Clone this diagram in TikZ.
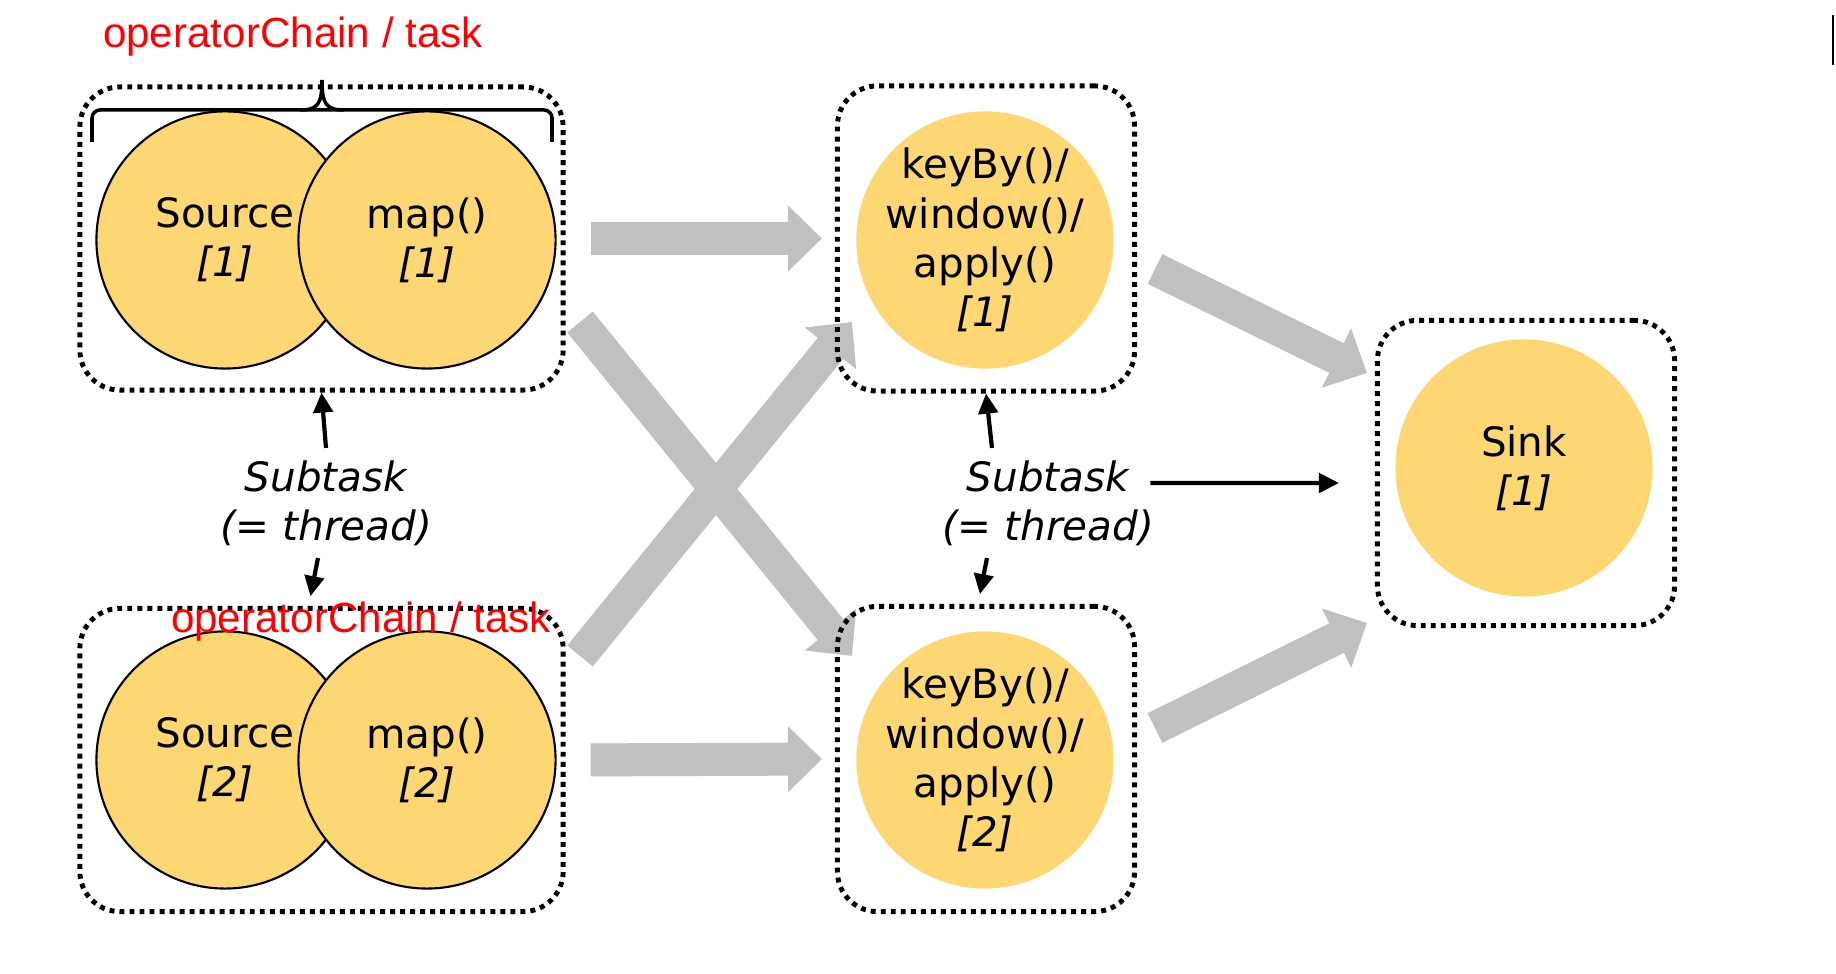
\documentclass[tikz,border=0pt]{standalone}
\usepackage{fontspec}
\setmainfont{DejaVu Sans}
\newfontfamily\redfont{Liberation Sans}
\usetikzlibrary{arrows.meta,backgrounds}

\definecolor{opyellow}{RGB}{253,215,115}
\definecolor{flowgray}{RGB}{192,192,192}

\begin{document}
\begin{tikzpicture}[x=0.01cm, y=-0.01cm,
    chainbox/.style={draw, line width=1.4pt, dash pattern=on 1.4pt off 1.45pt,
      rounded corners=0.4cm, minimum width=4.83cm, minimum height=3.03cm},
    subbox/.style={chainbox, minimum width=2.97cm, minimum height=3.05cm},
    op/.style={circle, fill=opyellow, minimum size=2.57cm, inner sep=0pt,
      align=center, font=\fontsize{11.5}{14}\selectfont},
    opline/.style={op, draw=black, line width=0.6pt},
    keyop/.style={op, inner sep=-3pt},
    note/.style={align=center, font=\fontsize{11.5}{14}\selectfont\itshape},
    redlabel/.style={text=red, font=\redfont\fontsize{12}{14}\selectfont},
    tick/.style={line width=1.2pt, -{Triangle[length=5.7pt, width=5.5pt]}},
    flow/.style={draw=flowgray, line width=0.33cm,
      -{Triangle[length=0.34cm, width=0.64cm]}}
  ]

    % --- Page ---
    \useasboundingbox (0,0) rectangle (1836,974);

    % --- Dotted boxes ---
    \node[chainbox] (chainA) at (321.5,238.5) {};
    \node[chainbox] (chainB) at (321.5,760) {};
    \node[subbox] (keyAbox) at (986,238.5) {};
    \node[subbox] (keyBbox) at (986,759) {};
    \node[subbox] (sinkbox) at (1526,473) {};

    % --- Operators ---
    \node[opline] (srcA) at (225,240) {Source\\\textit{[1]}};
    \node[opline] (mapA) at (427,240) {map()\\\textit{[1]}};
    \node[opline] (srcB) at (225,760) {Source\\\textit{[2]}};
    \node[opline] (mapB) at (427,760) {map()\\\textit{[2]}};
    \node[keyop] (keyA) at (985,240) {keyBy()/\\window()/\\apply()\\\textit{[1]}};
    \node[keyop] (keyB) at (985,760) {keyBy()/\\window()/\\apply()\\\textit{[2]}};
    \node[op] (sink) at (1524,468) {Sink\\\textit{[1]}};

    % --- Brace over the first chain ---
    \draw[line width=1pt, rounded corners=0.08cm]
      (92,142) -- (92,110) -- (552,110) -- (552,142);
    \draw[line width=1pt] (300,110) .. controls (318,110) and (322,104) .. (322,80)
      .. controls (322,104) and (326,110) .. (344,110);

    % --- Red labels ---
    \node[redlabel, anchor=base] (chainLabelA) at (293,48) {operatorChain / task};
    \node[redlabel, anchor=base] (chainLabelB) at (361,633) {operatorChain / task};

    % --- Subtask notes ---
    \node[note] (subA) at (326,503) {Subtask\\(= thread)};
    \node[note] (subB) at (1048,503) {Subtask\\(= thread)};

    \draw[tick] (subA.north) -- (chainA.south);
    \draw[tick, shorten >=0.1cm] ([xshift=-0.08cm]subA.south) -- ([xshift=-0.13cm]chainB.north);
    \draw[tick] ([xshift=-0.56cm]subB.north) -- (keyAbox.south);
    \draw[tick, shorten >=0.1cm] ([xshift=-0.61cm]subB.south) -- ([xshift=-0.08cm]keyBbox.north);
    \draw[tick] ([shift={(-0.16cm,0.2cm)}]subB.east) -- ([shift={(-0.36cm,-0.1cm)}]sinkbox.west);

    % --- Data flow ---
    \coordinate (xTopIn) at (580,322);
    \coordinate (xTopOut) at (852,656);
    \coordinate (xBotIn) at (580,656);
    \coordinate (xBotOut) at (852,322);
    \coordinate (sinkTopIn) at (1155,269);
    \coordinate (sinkTopOut) at (1367,373);
    \coordinate (sinkBotIn) at (1155,728);
    \coordinate (sinkBotOut) at (1367,623);

    \begin{scope}[on background layer]
      \draw[flow, shorten <=0.25cm, shorten >=0.13cm] (chainA.east) -- (keyAbox.west);
      \draw[flow, shorten <=0.25cm, shorten >=0.13cm] (chainB.east) -- (keyBbox.west);
      \draw[flow] (xTopIn) -- (xTopOut);
      \draw[flow] (xBotIn) -- (xBotOut);
      \draw[flow] (sinkTopIn) -- (sinkTopOut);
      \draw[flow] (sinkBotIn) -- (sinkBotOut);
    \end{scope}

    % --- Cursor mark ---
    \draw[line width=0.7pt] (1833,15) -- (1833,65);

\end{tikzpicture}
\end{document}
